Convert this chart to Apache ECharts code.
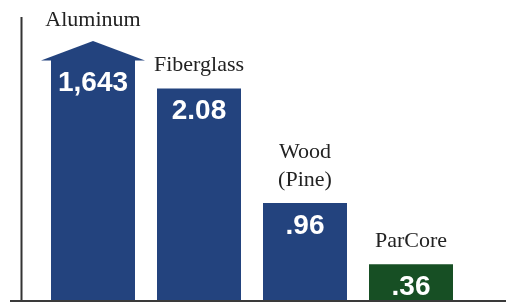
<!DOCTYPE html>
<html>
<head>
<meta charset="utf-8">
<script src="https://cdn.jsdelivr.net/npm/echarts@6/dist/echarts.min.js"></script>
<style>
  html, body { margin: 0; padding: 0; background: #ffffff; }
  #chart { width: 506px; height: 304px; }
</style>
</head>
<body>
<div id="chart"></div>
<script>
// materials compared (values as printed on the bars)
var categories = ['Aluminum', 'Fiberglass', 'Wood\n(Pine)', 'ParCore'];
var values = [1643, 2.08, 0.96, 0.36];
var valueLabels = ['1,643', '2.08', '.96', '.36'];
var barColors = ['#23437e', '#23437e', '#23437e', '#174f24'];

// top of the visible scale, anything above gets the arrow (broken bar)
var yMax = 2.36;

var chart = echarts.init(document.getElementById('chart'));

chart.setOption({
    animation: false,
    grid: { left: 40, right: 42, top: 60, bottom: 3 },
    xAxis: {
        type: 'category',
        data: categories,
        axisLine: { show: false },
        axisTick: { show: false },
        axisLabel: { show: false }
    },
    yAxis: {
        type: 'value',
        min: 0,
        max: yMax,
        axisLine: { show: false },
        axisTick: { show: false },
        axisLabel: { show: false },
        splitLine: { show: false }
    },
    graphic: [
        { type: 'line', z: 10, shape: { x1: 21.5, y1: 17, x2: 21.5, y2: 302 }, style: { stroke: '#333', lineWidth: 2 } },
        { type: 'line', z: 10, shape: { x1: 10, y1: 301, x2: 506, y2: 301 }, style: { stroke: '#3a3a3a', lineWidth: 2 } }
    ],
    series: [
        {
            type: 'bar',
            barWidth: 84,
            clip: true,
            data: values.map(function (v, i) {
                return { value: v, itemStyle: { color: barColors[i] } };
            }),
            label: {
                show: true,
                position: 'insideTop',
                distance: 9,
                color: '#ffffff',
                fontFamily: 'Liberation Sans',
                fontWeight: 'bold',
                fontSize: 28,
                formatter: function (p) { return valueLabels[p.dataIndex]; }
            }
        },
        {
            // arrow on capped bars + category names above bars
            type: 'custom',
            clip: false,
            data: values.map(function (v, i) { return [i, v]; }),
            renderItem: function (params, api) {
                var idx = api.value(0);
                var v = api.value(1);
                var capped = v > yMax;
                var top = api.coord([idx, Math.min(v, yMax)]);
                var half = 42;
                var children = [];
                var textBottom = top[1] - 9;
                if (capped) {
                    children.push({
                        type: 'polygon',
                        shape: { points: [[top[0] - half - 10, top[1] + 0.5], [top[0], top[1] - 19], [top[0] + half + 10, top[1] + 0.5]] },
                        style: { fill: barColors[idx] }
                    });
                    textBottom = top[1] - 19 - 7;
                }
                children.push({
                    type: 'text',
                    style: {
                        x: top[0],
                        y: textBottom,
                        text: categories[idx],
                        align: 'center',
                        verticalAlign: 'bottom',
                        fontFamily: 'Liberation Serif',
                        fontSize: 22,
                        lineHeight: 28,
                        fill: '#222'
                    }
                });
                return { type: 'group', children: children };
            }
        }
    ]
});
</script>
</body>
</html>
